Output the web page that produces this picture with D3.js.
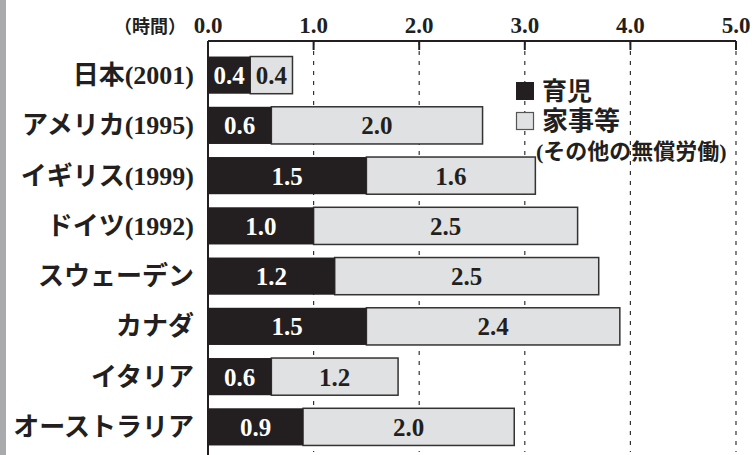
<!DOCTYPE html>
<html>
<head>
<meta charset="utf-8">
<script src="https://cdn.jsdelivr.net/npm/d3@7"></script>
<style>
  body { margin: 0; background: #fff; }
  svg text { font-family: "Liberation Serif", "Noto Sans CJK JP", serif; font-weight: 700; }
</style>
</head>
<body>
<svg width="755" height="455"></svg>
<script>
// countries and hours per day
const countries = ["日本(2001)", "アメリカ(1995)", "イギリス(1999)", "ドイツ(1992)", "スウェーデン", "カナダ", "イタリア", "オーストラリア"];
const childcare = [0.4, 0.6, 1.5, 1.0, 1.2, 1.5, 0.6, 0.9];
const housework = [0.4, 2.0, 1.6, 2.5, 2.5, 2.4, 1.2, 2.0];
const ticks = [0, 1, 2, 3, 4, 5];

let svg = d3.select("svg"),
  width = +svg.attr("width"),
  height = +svg.attr("height");

const black = "#231f20",
  grey = "#e0e1e2";

// grey strip on the left edge
svg.append("rect").attr("x", 0).attr("y", 0).attr("width", 6).attr("height", height).attr("fill", "#a9aaac");

let x = d3.scaleLinear().domain([0, 5]).range([208, 736]);
let y = d3.scaleBand().domain(countries).range([50, 452]).paddingInner(0.26).paddingOuter(0.13);

const axisY = 41;

// dashed grid
svg.append("g")
  .selectAll("line")
  .data(ticks.slice(1))
  .enter()
  .append("line")
  .attr("x1", d => x(d)).attr("x2", d => x(d))
  .attr("y1", axisY).attr("y2", 452)
  .attr("stroke", "#333")
  .attr("stroke-width", 1.2)
  .attr("stroke-dasharray", "4,6");

// bars
let rows = svg.append("g")
  .selectAll("g")
  .data(countries)
  .enter()
  .append("g");

rows.append("rect")
  .attr("x", (d, i) => x(childcare[i]))
  .attr("y", d => y(d))
  .attr("width", (d, i) => x(childcare[i] + housework[i]) - x(childcare[i]))
  .attr("height", y.bandwidth())
  .attr("fill", grey)
  .attr("stroke", "#333")
  .attr("stroke-width", 1.5);

rows.append("rect")
  .attr("x", x(0))
  .attr("y", d => y(d))
  .attr("width", (d, i) => x(childcare[i]) - x(0))
  .attr("height", y.bandwidth())
  .attr("fill", black);

rows.append("text")
  .attr("x", (d, i) => (x(0) + x(childcare[i])) / 2)
  .attr("y", d => y(d) + y.bandwidth() / 2 + 9)
  .attr("text-anchor", "middle")
  .attr("font-size", 25)
  .attr("fill", "#fff")
  .text((d, i) => childcare[i].toFixed(1));

rows.append("text")
  .attr("x", (d, i) => (x(childcare[i]) + x(childcare[i] + housework[i])) / 2)
  .attr("y", d => y(d) + y.bandwidth() / 2 + 9)
  .attr("text-anchor", "middle")
  .attr("font-size", 25)
  .attr("fill", "#231f20")
  .text((d, i) => housework[i].toFixed(1));

// category labels
rows.append("text")
  .attr("x", 194)
  .attr("y", d => y(d) + y.bandwidth() / 2 + 9)
  .attr("text-anchor", "end")
  .attr("font-size", 26)
  .attr("fill", "#231f20")
  .text(d => d);

// top axis
let axis = svg.append("g").attr("transform", "translate(0," + axisY + ")");
axis.append("line").attr("x1", x(0)).attr("x2", x(5)).attr("stroke", black).attr("stroke-width", 2);
axis.selectAll(".tick")
  .data(ticks.slice(1))
  .enter()
  .append("line")
  .attr("x1", d => x(d)).attr("x2", d => x(d))
  .attr("y1", 0).attr("y2", 9)
  .attr("stroke", black).attr("stroke-width", 2);
axis.selectAll("text")
  .data(ticks)
  .enter()
  .append("text")
  .attr("x", d => x(d))
  .attr("y", -8)
  .attr("text-anchor", "middle")
  .attr("font-size", 23)
  .attr("fill", black)
  .text(d => d.toFixed(1));
svg.append("text")
  .attr("x", 186).attr("y", 33)
  .attr("text-anchor", "end")
  .attr("font-size", 18)
  .attr("fill", black)
  .text("（時間）");

// left axis
svg.append("line").attr("x1", x(0)).attr("x2", x(0)).attr("y1", axisY).attr("y2", height).attr("stroke", black).attr("stroke-width", 2);

// legend
let legend = svg.append("g");
legend.append("rect").attr("x", 516).attr("y", 82).attr("width", 18).attr("height", 18).attr("fill", black);
legend.append("text").attr("x", 542).attr("y", 100).attr("font-size", 25).attr("fill", black).text("育児");
legend.append("rect").attr("x", 516.5).attr("y", 112.5).attr("width", 17).attr("height", 17).attr("fill", grey).attr("stroke", "#555").attr("stroke-width", 1.2);
legend.append("text").attr("x", 542).attr("y", 130).attr("font-size", 26).attr("fill", black).text("家事等");
legend.append("text").attr("x", 536).attr("y", 159).attr("font-size", 22).attr("fill", black).text("(その他の無償労働)");
</script>
</body>
</html>
